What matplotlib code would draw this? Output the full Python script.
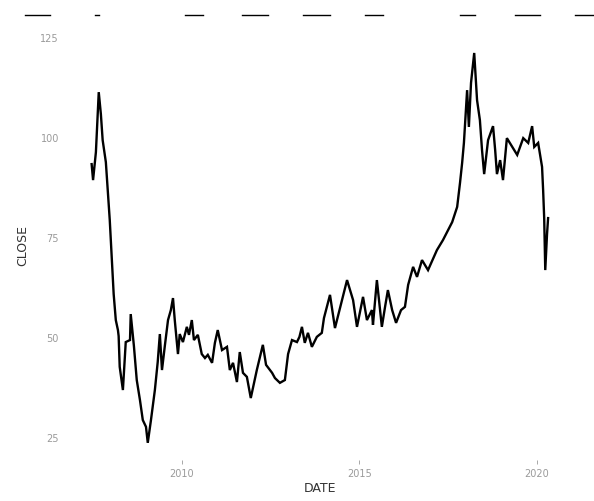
import numpy as np
import matplotlib
matplotlib.use("Agg")
from matplotlib import pyplot as plt
from matplotlib.lines import Line2D

# closing price, sampled as (decimal year, close)
years = [2007.46, 2007.50, 2007.58, 2007.66, 2007.72, 2007.77, 2007.86, 2007.92, 2007.97,
         2008.03, 2008.08, 2008.14, 2008.20, 2008.22, 2008.25, 2008.34, 2008.42, 2008.54,
         2008.56, 2008.65, 2008.73, 2008.82, 2008.90, 2008.99, 2009.04, 2009.13, 2009.24,
         2009.32, 2009.38, 2009.44, 2009.52, 2009.61, 2009.69, 2009.75, 2009.80, 2009.89,
         2009.94, 2010.03, 2010.14, 2010.20, 2010.28, 2010.34, 2010.45, 2010.56, 2010.65,
         2010.73, 2010.85, 2010.93, 2011.01, 2011.13, 2011.27, 2011.35, 2011.44, 2011.55,
         2011.63, 2011.72, 2011.83, 2011.94, 2012.11, 2012.28, 2012.37, 2012.54, 2012.62,
         2012.76, 2012.90, 2012.99, 2013.10, 2013.24, 2013.31, 2013.38, 2013.46, 2013.55,
         2013.66, 2013.80, 2013.94, 2014.00, 2014.17, 2014.31, 2014.51, 2014.65, 2014.82,
         2014.93, 2015.10, 2015.21, 2015.35, 2015.38, 2015.49, 2015.63, 2015.72, 2015.80,
         2015.92, 2016.03, 2016.17, 2016.28, 2016.37, 2016.51, 2016.62,
         2016.76, 2016.93, 2017.18, 2017.35, 2017.61, 2017.75, 2017.83, 2017.89, 2017.94,
         2018.03, 2018.08, 2018.14, 2018.23, 2018.31, 2018.39, 2018.45, 2018.51, 2018.62,
         2018.76, 2018.82, 2018.87, 2018.96, 2019.04, 2019.15, 2019.30, 2019.44, 2019.61,
         2019.75, 2019.86, 2019.92, 2020.03, 2020.14, 2020.17, 2020.20, 2020.23, 2020.28,
         2020.31]
close = [93.5, 89.5, 96.5, 111.5, 106.0, 99.5, 94.0, 86.0, 79.5,
         69.5, 61.0, 54.5, 52.0, 50.5, 42.8, 37.0, 49.0, 49.5,
         56.0, 48.0, 39.5, 34.5, 29.5, 27.8, 23.8, 29.5, 37.0,
         44.0, 51.0, 42.0, 48.0, 54.5, 57.0, 60.0, 54.5, 46.0,
         51.0, 49.0, 52.8, 50.8, 54.5, 49.5, 50.8, 46.0, 45.0,
         45.8, 43.8, 48.8, 52.0, 47.0, 47.8, 42.0, 43.8, 39.0,
         46.5, 41.3, 40.3, 35.0, 42.0, 48.3, 43.3, 41.3, 40.0,
         38.8, 39.5, 46.0, 49.5, 49.0, 50.3, 52.8, 48.8, 51.3,
         47.8, 50.3, 51.3, 55.0, 60.8, 52.5, 59.5, 64.5, 59.5,
         52.8, 60.3, 54.5, 57.0, 53.3, 64.5, 52.8, 57.8, 62.0,
         57.0, 53.8, 57.0, 57.8, 63.3, 67.8, 65.3,
         69.5, 67.0, 72.0, 74.5, 79.0, 82.8, 88.8, 93.8, 98.8,
         112.0, 102.8, 113.8, 121.3, 109.5, 104.5, 97.0, 91.0, 99.5,
         103.0, 97.0, 91.0, 94.5, 89.5, 100.0, 97.8, 95.8, 100.0,
         98.8, 103.0, 97.8, 98.8, 92.8, 87.0, 80.0, 67.0, 76.0,
         80.0]

yticks = [25, 50, 75, 100, 125]
xticks = [2010, 2015, 2020]

fig = plt.figure(figsize=(5.94, 5.01), dpi=100)
ax = fig.add_axes([0.1178, 0.0818, 0.842, 0.858])

ax.plot(years, close, color="black", linewidth=1.7, solid_joinstyle="miter")

ax.set_xlim(2006.85, 2020.93)
ax.set_ylim(19.5, 127)
ax.set_xticks(xticks)
ax.set_xticklabels([str(t) for t in xticks])
ax.set_yticks(yticks)
ax.set_yticklabels([str(t) for t in yticks])

for side in ["top", "right", "bottom", "left"]:
    ax.spines[side].set_visible(False)
ax.tick_params(axis="both", labelsize=7, colors="#9a9a9a", length=3, width=0.6)
ax.tick_params(axis="y", length=0, pad=8)
ax.set_xlabel("DATE", fontsize=9, color="#333333", labelpad=2)
ax.set_ylabel("CLOSE", fontsize=9, color="#333333", labelpad=8)

# row of short keys along the top edge
key_spans = [(25, 50), (95, 99), (185, 203), (242, 268), (303, 330),
             (365, 383), (460, 475), (515, 540), (575, 594)]
W, H = 594, 501
for x0, x1 in key_spans:
    fig.add_artist(Line2D([x0 / W, x1 / W], [1 - 15 / H, 1 - 15 / H],
                          transform=fig.transFigure, color="black", linewidth=1.0))

fig.savefig("out.png", dpi=100)
